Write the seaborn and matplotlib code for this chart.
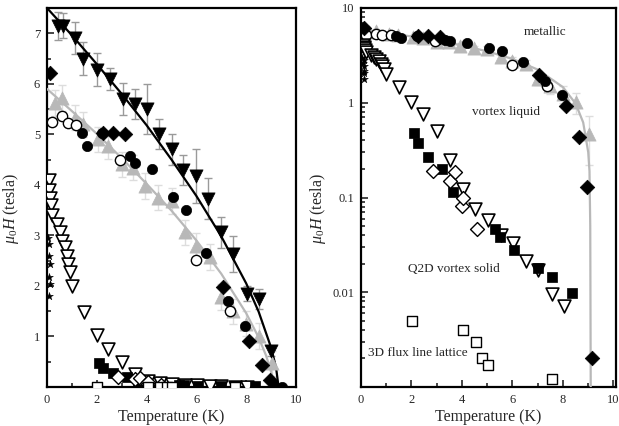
import numpy as np
import pandas as pd
import matplotlib
matplotlib.use("Agg")
import matplotlib.pyplot as plt
import seaborn as sns
from matplotlib.ticker import MultipleLocator, FixedLocator, FixedFormatter, LogLocator, NullFormatter

# ---------------- data ----------------
# filled down-triangles with error bars (left panel only)
tri_T = [0.44, 0.64, 1.12, 1.45, 2.0, 2.53, 3.05, 3.53, 4.0, 4.5, 5.0, 5.47, 6.0, 6.47, 7.0, 7.47, 8.03, 8.5, 9.0]
tri_H = [7.15, 7.15, 6.9, 6.5, 6.28, 6.1, 5.7, 5.6, 5.5, 5.0, 4.7, 4.3, 4.17, 3.73, 3.06, 2.63, 1.85, 1.74, 0.71]
tri_err = [0.28, 0.25, 0.32, 0.32, 0.32, 0.22, 0.32, 0.3, 0.5, 0.3, 0.3, 0.3, 0.53, 0.4, 0.3, 0.35, 0.15, 0.2, 0.1]

# grey up-triangles with error bars
grey_T = [0.32, 0.6, 1.12, 1.45, 2.05, 2.45, 3.0, 3.47, 3.94, 4.47, 5.0, 5.55, 6.0, 6.55, 7.0, 7.48, 8.0, 8.5, 9.05]
grey_H = [5.62, 5.72, 5.33, 5.2, 4.9, 4.77, 4.41, 4.34, 3.98, 3.75, 3.68, 3.06, 2.79, 2.57, 1.78, 1.5, 1.25, 1.01, 0.47]
grey_err = [0.25] * len(grey_T)

# filled circles
circ_T = [1.4, 1.6, 2.2, 3.33, 3.53, 4.2, 5.07, 5.6, 6.4, 7.27, 7.95, 9.43]
circ_H = [5.03, 4.77, 5.03, 4.58, 4.44, 4.31, 3.76, 3.5, 2.66, 1.7, 1.2, 0.0005]

# open circles
ocirc_T = [0.2, 0.6, 0.85, 1.17, 2.93, 6.0, 7.35]
ocirc_H = [5.24, 5.36, 5.22, 5.18, 4.5, 2.51, 1.5]

# filled diamonds
dia_T = [0.12, 2.25, 2.65, 3.13, 7.05, 8.1, 8.65, 8.95, 9.15]
dia_H = [6.22, 5.02, 5.02, 5.0, 1.97, 0.92, 0.44, 0.13, 0.002]

# open down-triangles
otri_T = [0.08, 0.1, 0.12, 0.15, 0.2, 0.39, 0.52, 0.6, 0.72, 0.8, 0.85, 0.92, 1.0, 1.5, 2.0,
          2.46, 3.0, 3.52, 4.05, 4.52, 5.03, 5.55, 6.02, 6.53, 7.0, 7.55, 8.04]
otri_H = [4.1, 3.9, 3.75, 3.6, 3.4, 3.22, 3.06, 2.89, 2.77, 2.59, 2.43, 2.27, 2.0, 1.48, 1.02,
          0.76, 0.5, 0.25, 0.122, 0.075, 0.058, 0.040, 0.033, 0.0215, 0.017, 0.0096, 0.0072]

# filled squares
sq_T = [2.1, 2.26, 2.65, 3.21, 3.64, 5.3, 5.5, 6.06, 7.0, 7.56, 8.36]
sq_H = [0.475, 0.38, 0.27, 0.20, 0.113, 0.046, 0.038, 0.0276, 0.018, 0.0146, 0.0099]

# open diamonds
odia_T = [2.85, 3.52, 3.72, 4.0, 4.04, 4.58]
odia_H = [0.19, 0.15, 0.184, 0.082, 0.098, 0.047]

# open squares
osq_T = [2.02, 4.04, 4.55, 4.8, 5.03, 7.56]
osq_H = [0.005, 0.004, 0.003, 0.002, 0.0017, 0.0012]

# stars
star_T = [0.05, 0.1, 0.08, 0.12, 0.1, 0.12, 0.1]
star_H = [2.95, 2.83, 2.6, 2.43, 2.17, 2.04, 1.8]

# black curve (left panel)
bl_T = [0, 1, 2, 3, 4, 5, 6, 7, 8, 8.5, 9.0, 9.2, 9.3]
bl_H = [7.5, 6.96, 6.39, 5.80, 5.18, 4.50, 3.78, 2.98, 2.05, 1.49, 0.78, 0.38, 0.0]

# grey curve (both panels)
gl_T = [0, 1, 2, 3, 4, 5, 6, 7, 8, 8.5, 8.8, 9.0, 9.05, 9.08, 9.1]
gl_H = [5.9, 5.46, 5.01, 4.53, 4.02, 3.49, 2.90, 2.24, 1.46, 0.98, 0.62, 0.30, 0.19, 0.05, 0.0008]

# region labels (right panel)
region_text = ["metallic", "vortex liquid", "Q2D vortex solid", "3D flux line lattice"]
region_T = [7.29, 5.74, 3.68, 2.26]
region_H = [5.57, 0.79, 0.0177, 0.0023]

# ---------------- style ----------------
sns.set_style("ticks")
plt.rcParams['font.family'] = ['Liberation Serif', 'DejaVu Serif']
plt.rcParams['mathtext.fontset'] = 'custom'
plt.rcParams['mathtext.rm'] = 'Liberation Serif'
plt.rcParams['mathtext.it'] = 'Liberation Serif:italic'

W, Hpx = 619, 426
fig = plt.figure(figsize=(W / 100, Hpx / 100), dpi=100)
axL = fig.add_axes([47 / W, 1 - 387 / Hpx, 249 / W, 379 / Hpx])
axR = fig.add_axes([361 / W, 1 - 387 / Hpx, 255 / W, 379 / Hpx])


def pts(ax, T, H, marker, s, face, edge, lw, z):
    sns.scatterplot(x=T, y=H, ax=ax, marker=marker, s=s, color=face,
                    edgecolor=edge, linewidth=lw, zorder=z, legend=False)


GREY = '#b8b8b8'

for ax, log in [(axL, False), (axR, True)]:
    if not log:
        sns.lineplot(x=bl_T, y=bl_H, ax=ax, color='black', linewidth=1.6,
                     sort=False, estimator=None, zorder=3)
        ax.errorbar(tri_T, tri_H, yerr=tri_err, fmt='none', ecolor='#9a9a9a',
                    elinewidth=1.0, capsize=3, capthick=1.0, zorder=2)
    sns.lineplot(x=gl_T, y=gl_H, ax=ax, color=GREY, linewidth=1.6,
                 sort=False, estimator=None, zorder=3)
    ax.errorbar(grey_T, grey_H, yerr=grey_err, fmt='none', ecolor='#dddddd',
                elinewidth=1.0, capsize=3, capthick=1.0, zorder=2)

    pts(ax, grey_T, grey_H, '^', 90, GREY, GREY, 0.5, 4)
    pts(ax, ocirc_T, ocirc_H, 'o', 55, 'white', 'black', 1.0, 5)
    pts(ax, circ_T, circ_H, 'o', 55, 'black', 'black', 0.5, 5)
    pts(ax, dia_T, dia_H, 'D', 55, 'black', 'black', 0.5, 5)
    pts(ax, otri_T, otri_H, 'v', 85, 'white', 'black', 1.2, 5)
    pts(ax, sq_T, sq_H, 's', 45, 'black', 'black', 0.5, 5)
    pts(ax, odia_T, odia_H, 'D', 50, 'white', 'black', 1.0, 5)
    pts(ax, osq_T, osq_H, 's', 45, 'white', 'black', 1.0, 5)
    pts(ax, star_T, star_H, '*', 35, 'black', 'black', 0.3, 5)
    if not log:
        pts(ax, tri_T, tri_H, 'v', 90, 'black', 'black', 0.5, 6)

    for sp in ax.spines.values():
        sp.set_linewidth(1.6)
        sp.set_color('black')
    ax.tick_params(which='both', direction='in', top=False, right=False,
                   labelsize=9, width=1.2, pad=5)
    ax.tick_params(which='major', length=5)
    ax.tick_params(which='minor', length=3)
    ax.xaxis.set_major_locator(MultipleLocator(2))
    ax.xaxis.set_minor_locator(MultipleLocator(1))
    ax.set_xlabel('Temperature (K)', fontsize=11.5, labelpad=2)
    ax.set_ylabel(r'$\mu_0H$ (tesla)', fontsize=11.5, labelpad=2)

axL.set_xlim(0, 10)
axL.set_ylim(0, 7.5)
axL.yaxis.set_major_locator(FixedLocator([1, 2, 3, 4, 5, 6, 7]))
axL.yaxis.set_minor_locator(MultipleLocator(0.5))
axL.yaxis.set_label_coords(-0.104, 0.47)

axR.set_yscale('log')
axR.set_xlim(0, 10.1)
axR.set_ylim(1e-3, 10)
axR.yaxis.set_major_locator(FixedLocator([1e-3, 1e-2, 1e-1, 1, 10]))
axR.yaxis.set_major_formatter(FixedFormatter(['', '0.01', '0.1', '1', '10']))
axR.yaxis.set_minor_locator(LogLocator(base=10, subs=np.arange(2, 10)))
axR.yaxis.set_minor_formatter(NullFormatter())
axR.yaxis.set_label_coords(-0.13, 0.47)

for txt, t, h in zip(region_text, region_T, region_H):
    axR.text(t, h, txt, ha='center', va='center', fontsize=9.5)

fig.savefig('out.png', dpi=100)
